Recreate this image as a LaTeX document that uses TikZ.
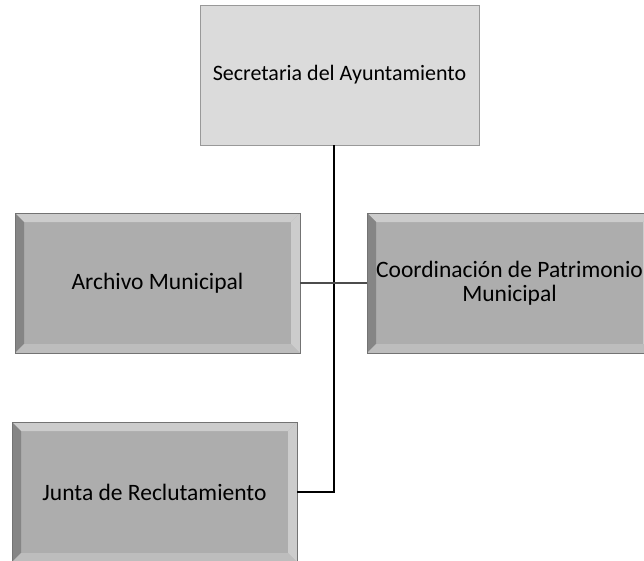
\documentclass[tikz,border=0pt]{standalone}
\usepackage{fontspec}
\setmainfont{Carlito}
\definecolor{topfill}{gray}{0.86}
\definecolor{boxfill}{gray}{0.68}
\definecolor{bevellight}{gray}{0.80}
\definecolor{bevelmid}{gray}{0.74}
\definecolor{beveldark}{gray}{0.52}
\begin{document}
\begin{tikzpicture}[x=1pt, y=-1pt,
		unit/.style={minimum width=285pt, minimum height=140pt, inner sep=0pt,
			align=center, font=\fontsize{23.5}{24}\selectfont, draw=black!55, line width=0.6pt},
		headbox/.style={unit, minimum width=279pt, fill=topfill, draw=black!40,
			font=\fontsize{22}{24}\selectfont},
		bevelbox/.style={unit, fill=boxfill, path picture={
				\coordinate (pnw) at (path picture bounding box.north west);
				\coordinate (pne) at (path picture bounding box.north east);
				\coordinate (psw) at (path picture bounding box.south west);
				\coordinate (pse) at (path picture bounding box.south east);
				\fill[bevellight] (pnw) -- (pne) -- ([shift={(-9pt,-9pt)}]pne) -- ([shift={(9pt,-9pt)}]pnw) -- cycle;
				\fill[beveldark] (pnw) -- (psw) -- ([shift={(9pt,9pt)}]psw) -- ([shift={(9pt,-9pt)}]pnw) -- cycle;
				\fill[bevellight] (pne) -- (pse) -- ([shift={(-9pt,9pt)}]pse) -- ([shift={(-9pt,-9pt)}]pne) -- cycle;
				\fill[bevelmid] (psw) -- (pse) -- ([shift={(-9pt,9pt)}]pse) -- ([shift={(9pt,9pt)}]psw) -- cycle;
			}},
		link/.style={line width=1.6pt, black}]
	\useasboundingbox (0,0) rectangle (644,560);
	
	% boxes
	\node[headbox] (secre) at (339.5,75) {Secretaria del Ayuntamiento};
	\node[bevelbox] (archivo) at (157.5,283) {Archivo Municipal};
	\node[bevelbox] (patrim) at (509.5,283) {Coordinación de Patrimonio\\Municipal};
	\node[bevelbox] (junta) at (154.5,492) {Junta de Reclutamiento};
	
	% lines
	\coordinate (bus) at (334,492);
	\draw[link] (secre.south -| bus) -- (bus) -- (junta.east);
	\draw[line width=1.3pt, black!70] (archivo.east) -- (patrim.west);
	
\end{tikzpicture}
\end{document}
